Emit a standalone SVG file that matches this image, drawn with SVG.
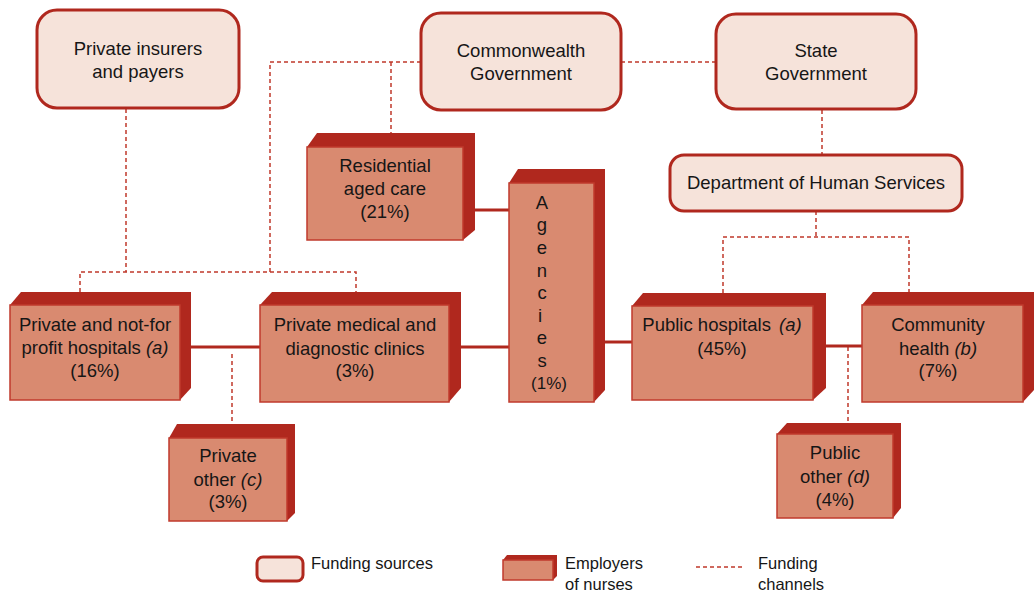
<svg xmlns="http://www.w3.org/2000/svg" width="1034" height="592" viewBox="0 0 1034 592">
  <style>
    .src rect { fill: #f6e3da; stroke: #b0281e; stroke-width: 3; }
    .emp .side { fill: #b0281e; }
    .emp .face { fill: #d98a70; stroke: #c03a2c; stroke-width: 1.5; }
    text { font-family: "Liberation Sans", Arial, sans-serif; font-size: 18.5px; fill: #161616; text-anchor: middle; }
    .leg text { font-size: 16.5px; text-anchor: start; }
    .i { font-style: italic; }
    .fund { fill: none; stroke: #c0392b; stroke-width: 1.5; stroke-dasharray: 4 3; }
    .link { fill: none; stroke: #b0281e; stroke-width: 3; }
  </style>

  <!-- connectors -->
  <g id="connectors">
    <!-- funding channels -->
    <path class="fund" d="M421 62 H270 V272"/>
    <path class="fund" d="M391 62 V133"/>
    <path class="fund" d="M621 62 H715"/>
    <path class="fund" d="M126 109 V272"/>
    <path class="fund" d="M80 292 V272 H356 V292"/>
    <path class="fund" d="M822 110 V154"/>
    <path class="fund" d="M816 211 V237"/>
    <path class="fund" d="M723 293 V237 H909 V292"/>
    <path class="fund" d="M232 354 V424"/>
    <path class="fund" d="M848 347 V423"/>
    <!-- links between employers -->
    <path class="link" d="M190 347 H260"/>
    <path class="link" d="M461 347 H509"/>
    <path class="link" d="M474 210 H509"/>
    <path class="link" d="M605 342 H632"/>
    <path class="link" d="M826 346 H862"/>
  </g>

  <!-- funding sources -->
  <g id="private-insurers" class="src">
    <rect x="37" y="10" width="202" height="98" rx="20"/>
    <text x="138" y="55">Private insurers</text>
    <text x="138" y="78">and payers</text>
  </g>
  <g id="commonwealth" class="src">
    <rect x="421" y="13" width="200" height="97" rx="20"/>
    <text x="521" y="57">Commonwealth</text>
    <text x="521" y="80">Government</text>
  </g>
  <g id="state" class="src">
    <rect x="716" y="14" width="200" height="95" rx="20"/>
    <text x="816" y="57">State</text>
    <text x="816" y="80">Government</text>
  </g>
  <g id="dhs" class="src">
    <rect x="670" y="155" width="292" height="56" rx="14"/>
    <text x="816" y="189">Department of Human Services</text>
  </g>

  <!-- employers of nurses -->
  <g id="residential" class="emp">
    <path class="side" d="M307 147 L317 133 H475 V230 L463 240 Z"/>
    <rect class="face" x="307" y="147" width="156" height="93"/>
    <text x="385" y="172">Residential</text>
    <text x="385" y="195">aged care</text>
    <text x="385" y="218">(21%)</text>
  </g>
  <g id="agencies" class="emp">
    <path class="side" d="M509 183 L518 169 H605 V390 L594 402 Z"/>
    <rect class="face" x="509" y="183" width="85" height="219"/>
    <text x="542" y="209">A</text>
    <text x="542" y="231">g</text>
    <text x="542" y="254">e</text>
    <text x="542" y="277">n</text>
    <text x="542" y="299">c</text>
    <text x="540" y="322">i</text>
    <text x="542" y="344">e</text>
    <text x="542" y="367">s</text>
    <text x="549" y="389" style="font-size:17px">(1%)</text>
  </g>
  <g id="private-hospitals" class="emp">
    <path class="side" d="M10 305 L21 292 H191 V388 L180 400 Z"/>
    <rect class="face" x="10" y="305" width="170" height="95"/>
    <text x="95" y="331">Private and not-for</text>
    <text x="95" y="354">profit hospitals <tspan class="i">(a)</tspan></text>
    <text x="95" y="377">(16%)</text>
  </g>
  <g id="private-clinics" class="emp">
    <path class="side" d="M260 305 L272 292 H461 V388 L449 402 Z"/>
    <rect class="face" x="260" y="305" width="189" height="97"/>
    <text x="355" y="331">Private medical and</text>
    <text x="355" y="355">diagnostic clinics</text>
    <text x="355" y="377">(3%)</text>
  </g>
  <g id="private-other" class="emp">
    <path class="side" d="M169 438 L177 424 H295 V513 L287 521 Z"/>
    <rect class="face" x="169" y="438" width="118" height="83"/>
    <text x="228" y="462">Private</text>
    <text x="228" y="486">other <tspan class="i">(c)</tspan></text>
    <text x="228" y="508">(3%)</text>
  </g>
  <g id="public-hospitals" class="emp">
    <path class="side" d="M632 306 L643 293 H826 V388 L813 400 Z"/>
    <rect class="face" x="632" y="306" width="181" height="94"/>
    <text x="722" y="331">Public hospitals <tspan class="i" dx="3">(a)</tspan></text>
    <text x="722" y="355">(45%)</text>
  </g>
  <g id="community-health" class="emp">
    <path class="side" d="M862 305 L873 292 H1034 V390 L1023 402 Z"/>
    <rect class="face" x="862" y="305" width="161" height="97"/>
    <text x="938" y="331">Community</text>
    <text x="938" y="355">health <tspan class="i">(b)</tspan></text>
    <text x="938" y="377">(7%)</text>
  </g>
  <g id="public-other" class="emp">
    <path class="side" d="M777 434 L787 423 H901 V508 L893 518 Z"/>
    <rect class="face" x="777" y="434" width="116" height="84"/>
    <text x="835" y="459">Public</text>
    <text x="835" y="483">other <tspan class="i">(d)</tspan></text>
    <text x="835" y="506">(4%)</text>
  </g>

  <!-- legend -->
  <g id="legend" class="leg">
    <g class="src">
      <rect x="257" y="557" width="46" height="24" rx="6"/>
    </g>
    <text x="311" y="569">Funding sources</text>
    <g class="emp">
      <path class="side" d="M503 560 L507 555 H557 V576 L553 580 Z"/>
      <rect class="face" x="503" y="560" width="50" height="20"/>
    </g>
    <text x="565" y="569">Employers</text>
    <text x="565" y="590">of nurses</text>
    <path class="fund" d="M696 567 H745"/>
    <text x="758" y="569">Funding</text>
    <text x="758" y="590">channels</text>
  </g>
</svg>
